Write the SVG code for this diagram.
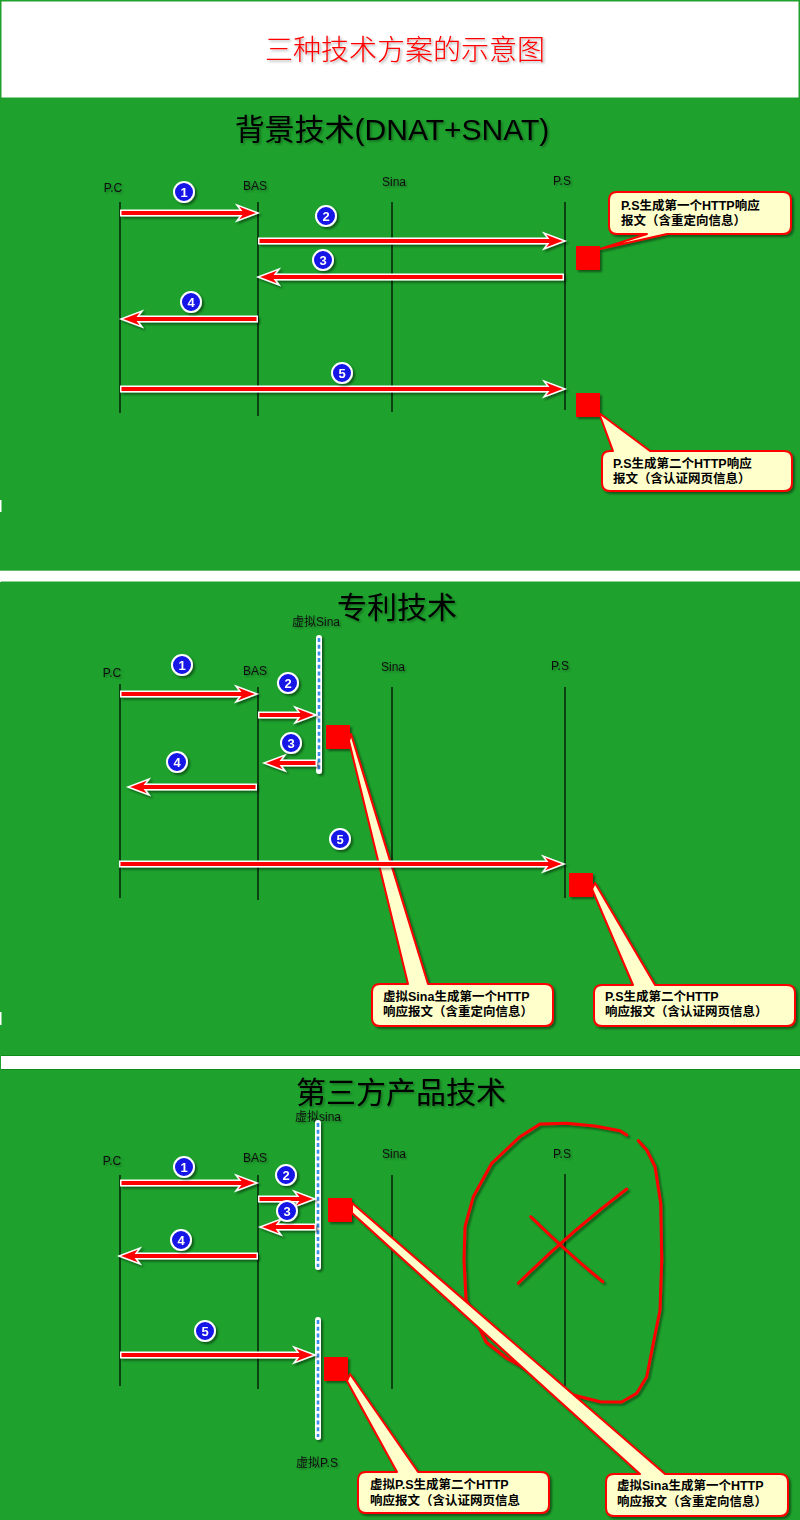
<svg xmlns="http://www.w3.org/2000/svg" xmlns:xlink="http://www.w3.org/1999/xlink" width="800" height="1520" viewBox="0 0 800 1520">
<defs>
<filter id="sh" filterUnits="userSpaceOnUse" x="0" y="0" width="800" height="1520"><feDropShadow dx="2" dy="2" stdDeviation="1.2" flood-color="#000" flood-opacity="0.45"/></filter>
<filter id="tsh" filterUnits="userSpaceOnUse" x="0" y="0" width="800" height="1520"><feDropShadow dx="1.5" dy="1.5" stdDeviation="0.8" flood-color="#000" flood-opacity="0.35"/></filter>
<path id="hd" d="M0,0 L-21,-8 L-15,0 L-21,8 Z" fill="#f00" stroke="#fff" stroke-width="1.5" stroke-linejoin="miter"/>
</defs>
<style>
.bg{fill:#1EA22D}
.ll{stroke:#000;stroke-width:1.2}
.lbl{font-family:"Liberation Sans",Arial,"Noto Sans CJK SC",sans-serif;font-size:12px;fill:#111;text-anchor:middle}
.ttl{font-family:"Liberation Sans",Arial,"Noto Sans CJK SC",sans-serif;font-size:30px;fill:#000;text-anchor:middle}
.ao{stroke:#fff;stroke-width:7}
.ai{stroke:#f00;stroke-width:4}
.bd circle{fill:#1212E6;stroke:#fff;stroke-width:2}
.bd text{fill:#fff;font-family:"Liberation Sans",Arial,sans-serif;font-weight:bold;font-size:13px;text-anchor:middle}
.sq{fill:#f00}
.co{fill:#FFFFCC;stroke:#f00;stroke-width:2;stroke-linejoin:round}
.ct{font-family:"Liberation Sans",Arial,"Noto Sans CJK SC",sans-serif;font-size:12.5px;font-weight:bold;fill:#000}
.v1{stroke:#fff;stroke-width:6;stroke-linecap:round}
.v2{stroke:#3B8FE8;stroke-width:2.6;stroke-dasharray:4 2.7}
.rl{fill:none;stroke:#f00;stroke-width:3;stroke-linecap:round;stroke-linejoin:round}
</style>
<rect x="0" y="0" width="800" height="1520" fill="#fff"/>
<g id="header">
<rect x="0.75" y="0.75" width="798.5" height="97.5" fill="#fff" stroke="#1EA22D" stroke-width="1.5"/>
<text x="405" y="60" font-family="Noto Sans CJK SC,sans-serif" font-weight="300" font-size="28" fill="#f00" text-anchor="middle" filter="url(#tsh)">三种技术方案的示意图</text>
</g>
<rect class="bg" x="0" y="98" width="800" height="472.7"/>
<rect class="bg" x="0" y="582" width="800" height="473"/>
<rect class="bg" x="0" y="1070" width="800" height="450"/>
<line x1="1" y1="581.5" x2="800" y2="581.5" stroke="#8FD297" stroke-width="1"/>
<line x1="1" y1="1055.5" x2="800" y2="1055.5" stroke="#0E8A1C" stroke-width="1"/>
<line x1="1" y1="1069.5" x2="800" y2="1069.5" stroke="#0E8A1C" stroke-width="1"/>
<line x1="0.5" y1="1055" x2="0.5" y2="1070" stroke="#1EA22D" stroke-width="1"/>
<rect x="0" y="500" width="1.5" height="12" fill="#fff"/>
<rect x="0" y="1012" width="1.5" height="13" fill="#fff"/>

<!-- ===== Panel 1 ===== -->
<g id="p1">
<text id="p1-title" class="ttl" x="392" y="140" filter="url(#tsh)">背景技术(DNAT+SNAT)</text>
<g id="p1-pc"><text class="lbl" x="113" y="192" filter="url(#tsh)">P.C</text><line class="ll" x1="120" y1="202" x2="120" y2="413"/></g>
<g id="p1-bas"><text class="lbl" x="255" y="190" filter="url(#tsh)">BAS</text><line class="ll" x1="258" y1="202" x2="258" y2="416"/></g>
<g id="p1-sina"><text class="lbl" x="394" y="186" filter="url(#tsh)">Sina</text><line class="ll" x1="392" y1="202" x2="392" y2="412"/></g>
<g id="p1-ps"><text class="lbl" x="562" y="185" filter="url(#tsh)">P.S</text><line class="ll" x1="565" y1="202" x2="565" y2="410"/></g>
<g id="p1-sq1"><rect class="sq" x="576" y="246" width="24" height="24" filter="url(#sh)"/></g>
<g id="p1-sq2"><rect class="sq" x="576" y="393" width="24" height="24" filter="url(#sh)"/></g>
<g id="p1-note1">
<path class="co" filter="url(#sh)" d="M617,192 H783 Q791,192 791,200 V226 Q791,234 783,234 H667 L600,249 L647,234 H617 Q609,234 609,226 V200 Q609,192 617,192 Z"/>
<text class="ct" x="621" y="210">P.S生成第一个HTTP响应</text>
<text class="ct" x="621" y="225">报文（含重定向信息）</text>
</g>
<g id="p1-note2">
<path class="co" filter="url(#sh)" d="M610,451 H613 L599,413 L650,451 H784 Q792,451 792,459 V483 Q792,491 784,491 H610 Q602,491 602,483 V459 Q602,451 610,451 Z"/>
<text class="ct" x="613" y="468">P.S生成第二个HTTP响应</text>
<text class="ct" x="613" y="483">报文（含认证网页信息）</text>
</g>
</g>

<!-- ===== Panel 2 ===== -->
<g id="p2">
<text id="p2-title" class="ttl" x="397" y="618" filter="url(#tsh)">专利技术</text>
<g id="p2-pc"><text class="lbl" x="112" y="677" filter="url(#tsh)">P.C</text><line class="ll" x1="120" y1="684" x2="120" y2="898"/></g>
<g id="p2-bas"><text class="lbl" x="255" y="675" filter="url(#tsh)">BAS</text><line class="ll" x1="258" y1="687" x2="258" y2="900"/></g>
<g id="p2-sina"><text class="lbl" x="393" y="671" filter="url(#tsh)">Sina</text><line class="ll" x1="392" y1="687" x2="392" y2="893"/></g>
<g id="p2-ps"><text class="lbl" x="560" y="670" filter="url(#tsh)">P.S</text><line class="ll" x1="565" y1="687" x2="565" y2="898"/></g>
<g id="p2-vsina">
<text class="lbl" x="316" y="626" filter="url(#tsh)">虚拟Sina</text>
<g filter="url(#sh)"><line class="v1" x1="319" y1="638" x2="319" y2="771"/><line class="v2" x1="319" y1="638" x2="319" y2="771"/></g>
</g>
<g id="p2-sq1"><rect class="sq" x="326" y="725" width="24" height="24" filter="url(#sh)"/></g>
<g id="p2-sq2"><rect class="sq" x="569" y="873" width="24" height="24" filter="url(#sh)"/></g>
<g id="p2-note1">
<path class="co" filter="url(#sh)" d="M380,984 H408 L349,741 L351,734 L428,984 H545 Q553,984 553,992 V1018 Q553,1026 545,1026 H380 Q372,1026 372,1018 V992 Q372,984 380,984 Z"/>
<text class="ct" x="383" y="1001">虚拟Sina生成第一个HTTP</text>
<text class="ct" x="383" y="1016">响应报文（含重定向信息）</text>
</g>
<g id="p2-note2">
<path class="co" filter="url(#sh)" d="M602,985 H633 L592,889 L595,883 L655,985 H787 Q795,985 795,993 V1018 Q795,1026 787,1026 H602 Q594,1026 594,1018 V993 Q594,985 602,985 Z"/>
<text class="ct" x="605" y="1001">P.S生成第二个HTTP</text>
<text class="ct" x="605" y="1016">响应报文（含认证网页信息）</text>
</g>
</g>

<!-- ===== Panel 3 ===== -->
<g id="p3">
<text id="p3-title" class="ttl" x="401" y="1103" font-size="31" filter="url(#tsh)">第三方产品技术</text>
<g id="p3-pc"><text class="lbl" x="112" y="1165" filter="url(#tsh)">P.C</text><line class="ll" x1="120" y1="1175" x2="120" y2="1386"/></g>
<g id="p3-bas"><text class="lbl" x="255" y="1162" filter="url(#tsh)">BAS</text><line class="ll" x1="258" y1="1175" x2="258" y2="1389"/></g>
<g id="p3-sina"><text class="lbl" x="394" y="1158" filter="url(#tsh)">Sina</text><line class="ll" x1="392" y1="1175" x2="392" y2="1389"/></g>
<g id="p3-ps"><text class="lbl" x="562" y="1158" filter="url(#tsh)">P.S</text><line class="ll" x1="565" y1="1174" x2="565" y2="1386"/></g>
<g id="p3-vsina">
<text class="lbl" x="318" y="1121" filter="url(#tsh)">虚拟sina</text>
<g filter="url(#sh)"><line class="v1" x1="318" y1="1123" x2="318" y2="1267"/><line class="v2" x1="318" y1="1123" x2="318" y2="1267"/></g>
</g>
<g id="p3-vps">
<g filter="url(#sh)"><line class="v1" x1="318" y1="1320" x2="318" y2="1437"/><line class="v2" x1="318" y1="1320" x2="318" y2="1437"/></g>
<text class="lbl" x="317" y="1467" filter="url(#tsh)">虚拟P.S</text>
</g>
<g id="p3-cross" filter="url(#sh)">
<path class="rl" d="M626.7,1135 L620,1130.7 L595,1126 L566.7,1123.3 L540,1124 L520,1136.7 L491.7,1163.3 L473.3,1196.7 L465,1226.7 L464,1260 L466,1300 L478,1325 L486,1342 L506.7,1358.3 L540,1376.7 L573.3,1395 L600,1401.7 L621.7,1402 L636.7,1393.3 L646.7,1376.7 L653.3,1343.3 L660,1310 L661.7,1260 L660.7,1203.3 L655,1166.7 L646.7,1150 L638.3,1140.7"/>
<path class="rl" d="M626.7,1189 Q570,1232 518.3,1283.3"/>
<path class="rl" d="M530.7,1216.7 Q570,1255 602.7,1281.7"/>
</g>
<g id="p3-sq1"><rect class="sq" x="328" y="1198" width="24" height="24" filter="url(#sh)"/></g>
<g id="p3-sq2"><rect class="sq" x="324" y="1357" width="24" height="24" filter="url(#sh)"/></g>
<g id="p3-note2">
<path class="co" filter="url(#sh)" d="M366,1472 H397 L347,1381 L350,1374 L418,1472 H541 Q549,1472 549,1480 V1505 Q549,1513 541,1513 H366 Q358,1513 358,1505 V1480 Q358,1472 366,1472 Z"/>
<text class="ct" x="370" y="1489">虚拟P.S生成第二个HTTP</text>
<text class="ct" x="370" y="1505">响应报文（含认证网页信息</text>
</g>
<g id="p3-note1">
<path class="co" filter="url(#sh)" d="M614,1474 H640 L352,1213 L352,1203 L665,1474 H780 Q788,1474 788,1482 V1508 Q788,1516 780,1516 H614 Q606,1516 606,1508 V1482 Q606,1474 614,1474 Z"/>
<text class="ct" x="617" y="1490">虚拟Sina生成第一个HTTP</text>
<text class="ct" x="617" y="1506">响应报文（含重定向信息）</text>
</g>
</g>

<!-- ===== Connectors ===== -->
<g id="connectors" filter="url(#sh)">
<!-- panel 1 -->
<g><line class="ao" x1="120" y1="213" x2="243" y2="213"/><use xlink:href="#hd" href="#hd" transform="translate(258,213)"/><line class="ai" x1="121.5" y1="213" x2="246" y2="213"/></g>
<g><line class="ao" x1="258" y1="241" x2="550" y2="241"/><use xlink:href="#hd" href="#hd" transform="translate(565,241)"/><line class="ai" x1="259.5" y1="241" x2="553" y2="241"/></g>
<g><line class="ao" x1="564" y1="277" x2="273" y2="277"/><use xlink:href="#hd" href="#hd" transform="translate(258,277) rotate(180)"/><line class="ai" x1="562.5" y1="277" x2="270" y2="277"/></g>
<g><line class="ao" x1="258" y1="319" x2="136" y2="319"/><use xlink:href="#hd" href="#hd" transform="translate(121,319) rotate(180)"/><line class="ai" x1="256.5" y1="319" x2="133" y2="319"/></g>
<g><line class="ao" x1="120" y1="389" x2="550" y2="389"/><use xlink:href="#hd" href="#hd" transform="translate(565,389)"/><line class="ai" x1="121.5" y1="389" x2="553" y2="389"/></g>
<!-- panel 2 -->
<g><line class="ao" x1="120" y1="694" x2="242" y2="694"/><use xlink:href="#hd" href="#hd" transform="translate(257,694)"/><line class="ai" x1="121.5" y1="694" x2="245" y2="694"/></g>
<g><line class="ao" x1="258" y1="715" x2="301" y2="715"/><use xlink:href="#hd" href="#hd" transform="translate(316,715)"/><line class="ai" x1="259.5" y1="715" x2="304" y2="715"/></g>
<g><line class="ao" x1="317" y1="763" x2="279" y2="763"/><use xlink:href="#hd" href="#hd" transform="translate(264,763) rotate(180)"/><line class="ai" x1="315.5" y1="763" x2="276" y2="763"/></g>
<g><line class="ao" x1="257" y1="787" x2="143" y2="787"/><use xlink:href="#hd" href="#hd" transform="translate(128,787) rotate(180)"/><line class="ai" x1="255.5" y1="787" x2="140" y2="787"/></g>
<g><line class="ao" x1="119" y1="864" x2="549" y2="864"/><use xlink:href="#hd" href="#hd" transform="translate(564,864)"/><line class="ai" x1="120.5" y1="864" x2="552" y2="864"/></g>
<!-- panel 3 -->
<g><line class="ao" x1="120" y1="1183" x2="242" y2="1183"/><use xlink:href="#hd" href="#hd" transform="translate(257,1183)"/><line class="ai" x1="121.5" y1="1183" x2="245" y2="1183"/></g>
<g><line class="ao" x1="258" y1="1199" x2="300" y2="1199"/><use xlink:href="#hd" href="#hd" transform="translate(315,1199)"/><line class="ai" x1="259.5" y1="1199" x2="303" y2="1199"/></g>
<g><line class="ao" x1="316" y1="1227" x2="275" y2="1227"/><use xlink:href="#hd" href="#hd" transform="translate(260,1227) rotate(180)"/><line class="ai" x1="314.5" y1="1227" x2="272" y2="1227"/></g>
<g><line class="ao" x1="258" y1="1256" x2="134" y2="1256"/><use xlink:href="#hd" href="#hd" transform="translate(119,1256) rotate(180)"/><line class="ai" x1="256.5" y1="1256" x2="131" y2="1256"/></g>
<g><line class="ao" x1="120" y1="1355" x2="300" y2="1355"/><use xlink:href="#hd" href="#hd" transform="translate(315,1355)"/><line class="ai" x1="121.5" y1="1355" x2="303" y2="1355"/></g>
</g>

<!-- ===== Step badges ===== -->
<g id="badges" filter="url(#sh)">
<g class="bd" transform="translate(184,192)"><circle r="10"/><text y="4.6">1</text></g>
<g class="bd" transform="translate(326,216)"><circle r="10"/><text y="4.6">2</text></g>
<g class="bd" transform="translate(323,260)"><circle r="10"/><text y="4.6">3</text></g>
<g class="bd" transform="translate(191,302)"><circle r="10"/><text y="4.6">4</text></g>
<g class="bd" transform="translate(342,373)"><circle r="10"/><text y="4.6">5</text></g>
<g class="bd" transform="translate(182,665)"><circle r="10"/><text y="4.6">1</text></g>
<g class="bd" transform="translate(288,683)"><circle r="10"/><text y="4.6">2</text></g>
<g class="bd" transform="translate(291,743)"><circle r="10"/><text y="4.6">3</text></g>
<g class="bd" transform="translate(177,762)"><circle r="10"/><text y="4.6">4</text></g>
<g class="bd" transform="translate(340,839)"><circle r="10"/><text y="4.6">5</text></g>
<g class="bd" transform="translate(184,1167)"><circle r="10"/><text y="4.6">1</text></g>
<g class="bd" transform="translate(286,1175)"><circle r="10"/><text y="4.6">2</text></g>
<g class="bd" transform="translate(287,1211)"><circle r="10"/><text y="4.6">3</text></g>
<g class="bd" transform="translate(181,1240)"><circle r="10"/><text y="4.6">4</text></g>
<g class="bd" transform="translate(205,1331)"><circle r="10"/><text y="4.6">5</text></g>
</g>
</svg>
